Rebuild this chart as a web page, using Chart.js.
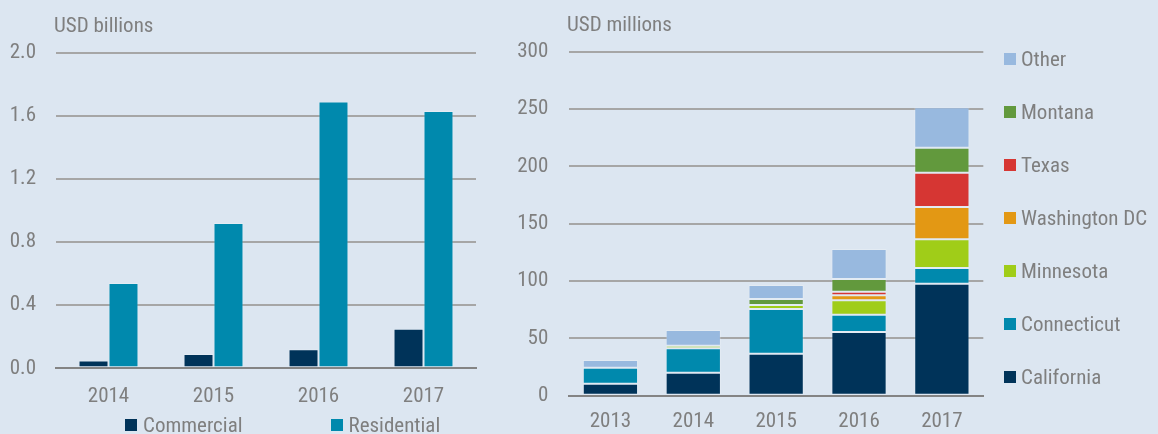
<!DOCTYPE html>
<html>
<head>
<meta charset="utf-8">
<script src="https://cdn.jsdelivr.net/npm/chart.js@4.4.1/dist/chart.umd.min.js"></script>
<style>
  html, body { margin: 0; padding: 0; background: #dce6f1; overflow: hidden; }
  body { width: 1158px; height: 434px; position: relative; font-family: 'Roboto Condensed', 'Liberation Sans', sans-serif; color: #7f7f7f; }
  #leftBox { position: absolute; left: 0; top: 0; width: 500px; height: 434px; }
  #rightBox { position: absolute; left: 500px; top: 0; width: 658px; height: 446px; }
  .legend { position: absolute; margin: 0; padding: 0; list-style: none; font-size: 21px; }
  .legend li { display: flex; align-items: center; white-space: nowrap; }
  .legend span.box { display: inline-block; width: 12px; height: 12px; }
  #leftLegend { left: 125px; top: 412px; display: flex; gap: 88px; }
  #leftLegend li { height: 26px; }
  #leftLegend span.box { margin-right: 6px; }
  #rightLegend { left: 1004px; top: 33px; }
  #rightLegend li { height: 52.9px; }
  #rightLegend span.box { margin-right: 5px; }
</style>
</head>
<body>
<div id="leftBox"><canvas id="issuanceChart"></canvas></div>
<div id="rightBox"><canvas id="stateChart"></canvas></div>
<ul class="legend" id="leftLegend"></ul>
<ul class="legend" id="rightLegend"></ul>
<script>
// left panel: USD billions
const years1 = ['2014', '2015', '2016', '2017'];
const commercial = [0.05, 0.09, 0.12, 0.25];
const residential = [0.54, 0.92, 1.69, 1.63];

// right panel: USD millions, by state
const years2 = ['2013', '2014', '2015', '2016', '2017'];
const california = [10.5, 20.1, 36.6, 55.5, 97.7];
const connecticut = [13.9, 21.2, 39.0, 15.1, 13.7];
const minnesota = [0, 2.3, 3.5, 12.6, 25.0];
const washingtonDC = [0, 0, 0, 4.3, 28.2];
const texas = [0, 0, 0, 3.2, 29.9];
const montana = [0, 0, 5.2, 11.1, 21.8];
const other = [6.7, 13.7, 12.2, 26.1, 35.2];

const navy = '#003359';
const teal = '#0089ad';
const fontFam = "'Roboto Condensed', 'Liberation Sans', sans-serif";

Chart.defaults.font.family = fontFam;
Chart.defaults.font.size = 21;
Chart.defaults.color = '#7f7f7f';
Chart.defaults.animation = false;

const unitLabel = {
    id: 'unitLabel',
    afterDraw(chart, args, opts) {
        const ctx = chart.ctx;
        ctx.save();
        ctx.font = '21px ' + fontFam;
        ctx.fillStyle = '#7f7f7f';
        ctx.textBaseline = 'alphabetic';
        ctx.fillText(opts.text, chart.chartArea.left - 2, chart.chartArea.top - 21);
        ctx.restore();
    }
};

function gridColor(c) {
    return c.tick && c.tick.value === 0 ? '#848484' : '#a6a6a6';
}

function bar(label, data, color) {
    return {
        label: label,
        data: data,
        backgroundColor: color,
        borderColor: 'rgba(255,255,255,0.2)',
        borderWidth: 1,
        borderSkipped: false
    };
}

const chart1 = new Chart(document.getElementById('issuanceChart'), {
    type: 'bar',
    data: {
        labels: years1,
        datasets: [
            bar('Commercial', commercial, navy),
            bar('Residential', residential, teal)
        ]
    },
    options: {
        responsive: true,
        maintainAspectRatio: false,
        layout: { padding: { top: 52.7, right: 24, bottom: 20.7, left: 0 } },
        categoryPercentage: 0.571,
        barPercentage: 1,
        plugins: {
            legend: { display: false },
            tooltip: { enabled: false },
            unitLabel: { text: 'USD billions' }
        },
        scales: {
            x: {
                grid: { display: false, drawTicks: false },
                border: { color: '#848484', width: 2 },
                ticks: { padding: 17.9, font: { lineHeight: 1 } },
                afterFit: function(s) { s.height = 45; }
            },
            y: {
                min: 0,
                max: 2.0,
                ticks: { stepSize: 0.4, padding: 20, callback: v => v.toFixed(1) },
                grid: { color: gridColor, lineWidth: 2, drawTicks: false },
                border: { display: false },
                afterFit: function(s) { s.width = 56; }
            }
        }
    },
    plugins: [unitLabel]
});

const chart2 = new Chart(document.getElementById('stateChart'), {
    type: 'bar',
    data: {
        labels: years2,
        datasets: [
            bar('California', california, navy),
            bar('Connecticut', connecticut, teal),
            bar('Minnesota', minnesota, '#a0cd18'),
            bar('Washington DC', washingtonDC, '#e39814'),
            bar('Texas', texas, '#d63633'),
            bar('Montana', montana, '#62993d'),
            bar('Other', other, '#98b9df')
        ]
    },
    options: {
        responsive: true,
        maintainAspectRatio: false,
        layout: { padding: { top: 51.7, right: 174.7, bottom: 5.3, left: 0 } },
        categoryPercentage: 0.667,
        barPercentage: 1,
        plugins: {
            legend: { display: false },
            tooltip: { enabled: false },
            unitLabel: { text: 'USD millions' }
        },
        scales: {
            x: {
                stacked: true,
                grid: { display: false, drawTicks: false },
                border: { color: '#848484', width: 2 },
                ticks: { padding: 15.8, font: { lineHeight: 1 } },
                afterFit: function(s) { s.height = 45; }
            },
            y: {
                stacked: true,
                min: 0,
                max: 300,
                ticks: { stepSize: 50, padding: 20.7 },
                grid: { color: gridColor, lineWidth: 2, drawTicks: false },
                border: { display: false },
                afterFit: function(s) { s.width = 69; }
            }
        }
    },
    plugins: [unitLabel]
});

// html legends built from the chart datasets
function htmlLegend(chart, id, reverse) {
    const ul = document.getElementById(id);
    let sets = chart.data.datasets.slice();
    if (reverse) sets.reverse();
    sets.forEach(ds => {
        const li = document.createElement('li');
        const box = document.createElement('span');
        box.className = 'box';
        box.style.background = ds.backgroundColor;
        li.appendChild(box);
        li.appendChild(document.createTextNode(ds.label));
        ul.appendChild(li);
    });
}
htmlLegend(chart1, 'leftLegend', false);
htmlLegend(chart2, 'rightLegend', true);
</script>
</body>
</html>
